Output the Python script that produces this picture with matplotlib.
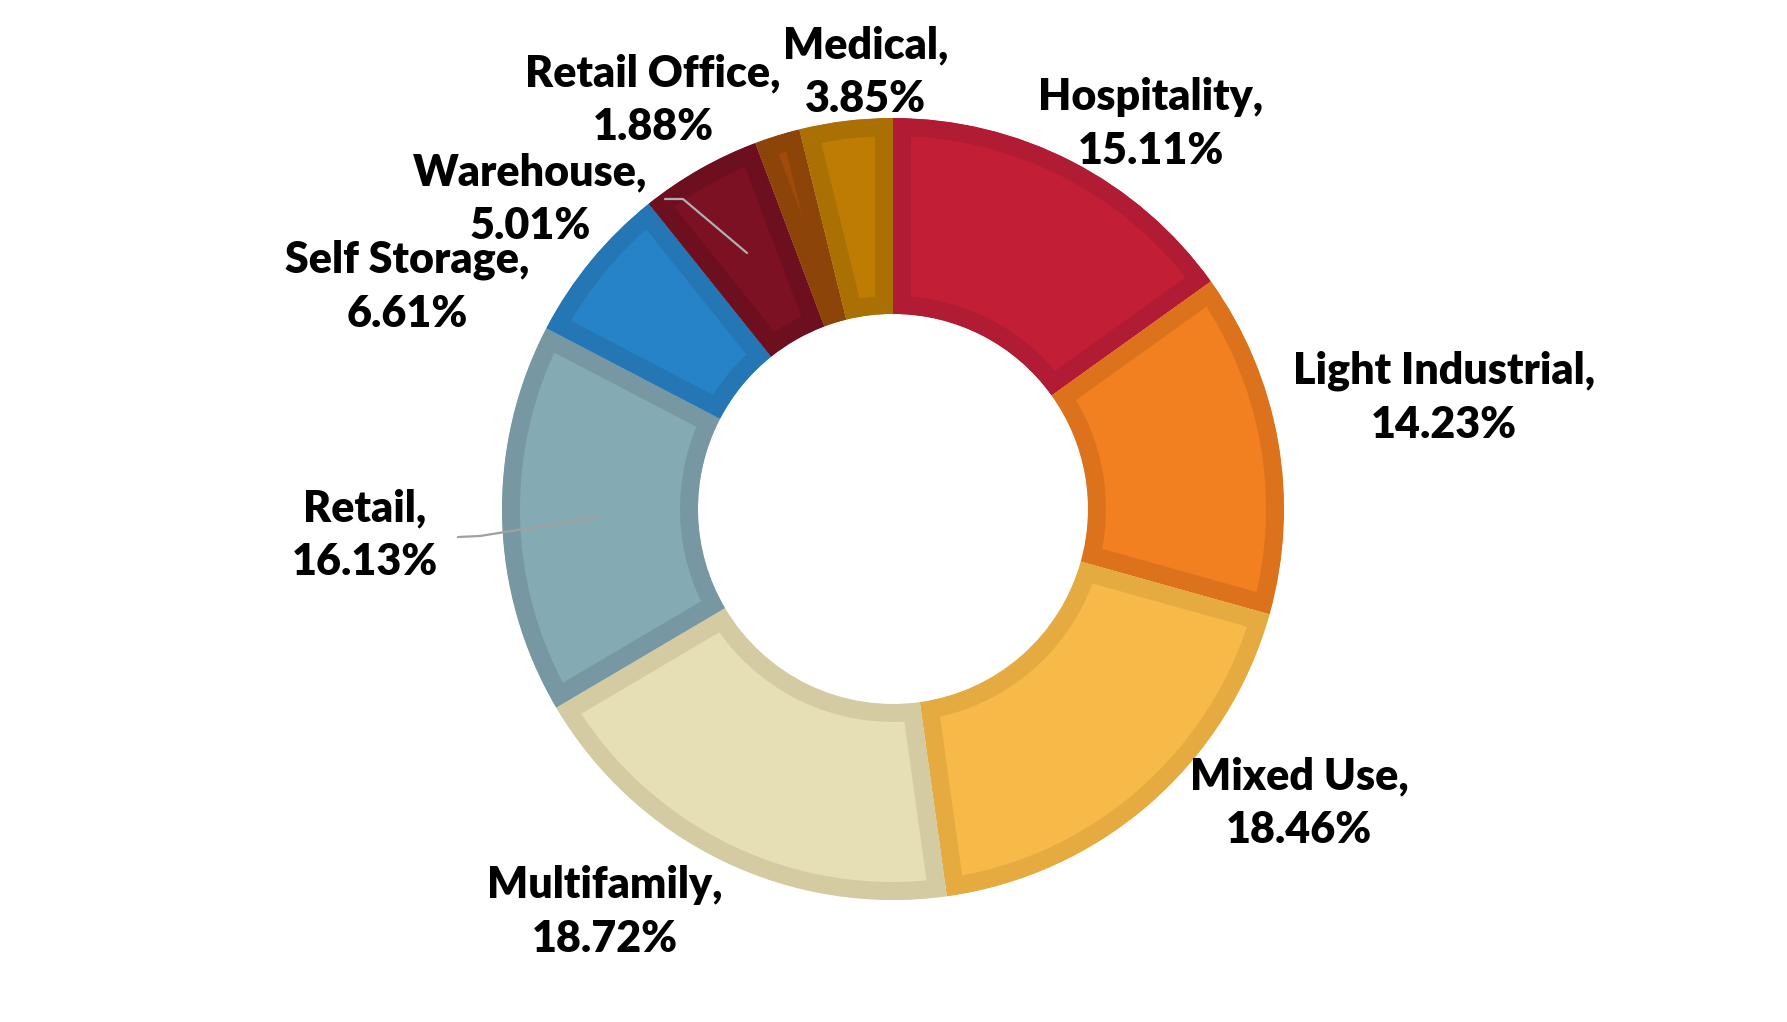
import matplotlib
matplotlib.use("Agg")
import matplotlib.pyplot as plt

categories = ["Hospitality", "Light Industrial", "Mixed Use", "Multifamily", "Retail",
              "Self Storage", "Warehouse", "Retail Office", "Medical"]
values = [15.11, 14.23, 18.46, 18.72, 16.13, 6.61, 5.01, 1.88, 3.85]
fill_colors = ["#C21F37", "#F28020", "#F7B947", "#E6DFB6", "#84AAB4",
               "#2783C8", "#7B1123", "#A04A0B", "#BF7C05"]
edge_colors = ["#B11B33", "#DC731C", "#E5AB41", "#D4CBA2", "#7798A2",
               "#2476B4", "#6D0F1F", "#8C4409", "#AA7003"]

W, H = 1787, 1022
fig = plt.figure(figsize=(W / 100, H / 100), dpi=100)
ax = fig.add_axes([0, 0, 1, 1])

cx, cy = 893, H - 509
R_out, ring = 391, 196
wedges, _ = ax.pie(values, radius=R_out, center=(cx, cy), startangle=90,
                   counterclock=False, colors=fill_colors,
                   wedgeprops=dict(width=ring, linewidth=25.9))
for w, ec in zip(wedges, edge_colors):
    w.set_edgecolor(ec)
    w.set_clip_on(True)
    w.set_clip_path(w)

ax.set_xlim(0, W)
ax.set_ylim(0, H)
ax.set_aspect("equal")
ax.axis("off")

label_pos = [(1151, 124), (1444, 398), (1299, 803), (605, 912), (365, 535),
             (407, 287), (530, 199), (653, 100), (866, 72)]
for cat, v, (lx, ly) in zip(categories, values, label_pos):
    ax.text(lx, H - ly, f"{cat},\n{v:.2f}%", ha="center", va="center",
            fontsize=31, fontweight="heavy", family="Lato", color="black",
            linespacing=1.42)

# leader lines
ax.plot([458, 480, 598], [H - 537, H - 536, H - 517], color="#A0A0A0", lw=1.6,
        solid_capstyle="round")
ax.plot([665, 683, 747], [H - 199, H - 199, H - 253], color="#B0B0B0", lw=1.6,
        solid_capstyle="round")

fig.savefig("out.png", dpi=100, facecolor="white")
